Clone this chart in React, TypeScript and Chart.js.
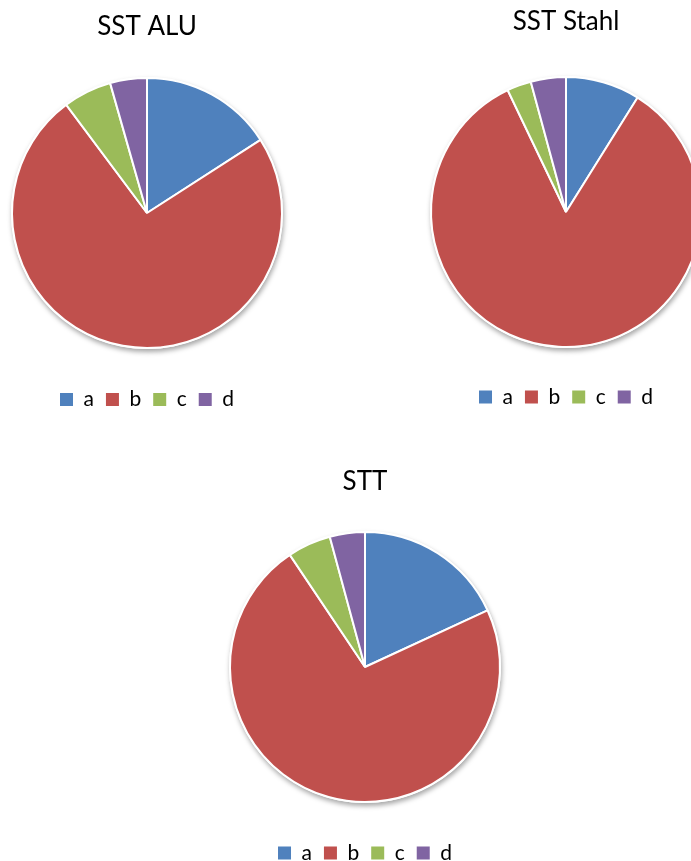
import React, { useEffect, useRef } from "react";
import { Chart, registerables } from "chart.js";

Chart.register(...registerables);

const categories = ["a", "b", "c", "d"];
const sstAluValues = [15.9, 73.9, 5.8, 4.4];
const sstStahlValues = [8.9, 84.0, 2.9, 4.2];
const sttValues = [18.1, 72.5, 5.2, 4.2];
const sliceColors = ["#4F81BD", "#C0504D", "#9BBB59", "#8064A2"];

const FONT = "Lato, 'Open Sans', 'Liberation Sans', sans-serif";

const shadowPlugin = {
  id: "pieShadow",
  beforeDatasetsDraw(chart: any) {
    const meta = chart.getDatasetMeta(0);
    const arc = meta && meta.data && meta.data[0];
    if (!arc) return;
    const { x, y, outerRadius } = arc.getProps(["x", "y", "outerRadius"], true);
    const ctx = chart.ctx;
    ctx.save();
    ctx.shadowColor = "rgba(0,0,0,0.35)";
    ctx.shadowBlur = 5;
    ctx.shadowOffsetX = 1;
    ctx.shadowOffsetY = 3;
    ctx.fillStyle = "#FFFFFF";
    ctx.beginPath();
    ctx.arc(x, y, outerRadius + 1, 0, Math.PI * 2);
    ctx.fill();
    ctx.restore();
  },
};

type PieProps = {
  title: string;
  values: number[];
  left: number;
  top: number;
  titlePadTop: number;
  titlePadBottom: number;
  legendPadBottom: number;
};

function PieChart(props: PieProps) {
  const ref = useRef<HTMLCanvasElement | null>(null);
  useEffect(() => {
    if (!ref.current) return;
    const chart = new Chart(ref.current, {
      type: "pie",
      data: {
        labels: categories,
        datasets: [
          {
            data: props.values,
            backgroundColor: sliceColors,
            borderColor: "#FFFFFF",
            borderWidth: 2,
            radius: 135,
          } as any,
        ],
      },
      plugins: [shadowPlugin],
      options: {
        responsive: false,
        animation: false,
        layout: { padding: { bottom: props.legendPadBottom } },
        plugins: {
          tooltip: { enabled: false },
          title: {
            display: true,
            text: props.title,
            color: "#000000",
            font: { family: FONT, size: 26, weight: "normal" },
            padding: { top: props.titlePadTop, bottom: props.titlePadBottom },
          },
          legend: {
            display: true,
            position: "bottom",
            labels: {
              color: "#000000",
              font: { family: FONT, size: 21 },
              boxWidth: 13,
              boxHeight: 13,
              padding: 12,
              generateLabels: (c: any) => {
                const items = Chart.overrides.pie.plugins.legend.labels.generateLabels(c);
                return items.map((it: any) => ({ ...it, lineWidth: 0, strokeStyle: it.fillStyle }));
              },
            },
          },
        },
      } as any,
    });
    return () => chart.destroy();
  }, []);
  return (
    <canvas
      ref={ref}
      width={294}
      height={420}
      style={{ position: "absolute", left: props.left, top: props.top, width: 294, height: 420 }}
    />
  );
}

export default function App() {
  return (
    <div
      style={{
        position: "fixed",
        left: 0,
        top: 0,
        width: 691,
        height: 861,
        overflow: "hidden",
        background: "#FFFFFF",
      }}
    >
      <PieChart title="SST ALU" values={sstAluValues} left={0} top={0} titlePadTop={11.4} titlePadBottom={6.4} legendPadBottom={0} />
      <PieChart title="SST Stahl" values={sstStahlValues} left={419} top={-1} titlePadTop={7.4} titlePadBottom={11.9} legendPadBottom={1.5} />
      <PieChart title="STT" values={sttValues} left={218} top={454} titlePadTop={12.4} titlePadBottom={5.9} legendPadBottom={0.5} />
    </div>
  );
}
